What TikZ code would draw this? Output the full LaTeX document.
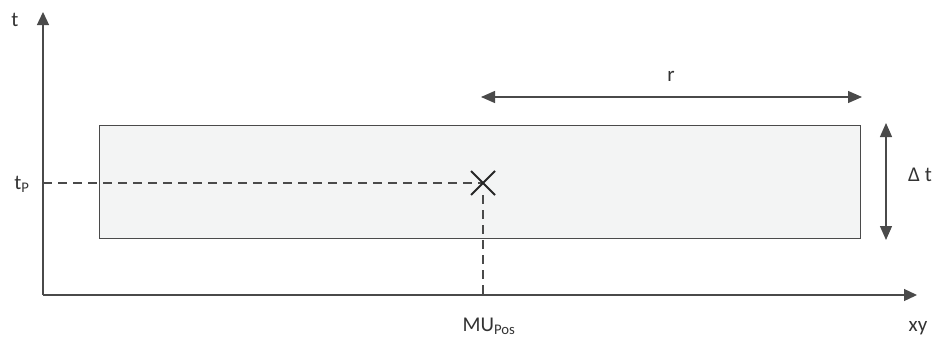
\documentclass[tikz,border=0pt]{standalone}
\usepackage{fontspec}
\setmainfont{Carlito}
\usetikzlibrary{arrows.meta}
\definecolor{linegray}{HTML}{4A4A4A}
\definecolor{boxfill}{HTML}{F3F4F4}
\tikzset{
  tip/.style={Triangle[length=13pt,width=12pt]},
  axis/.style={draw=linegray, line width=1.3pt, -{Triangle[length=13pt,width=12pt]}},
  dimarrow/.style={draw=linegray, line width=1.3pt, {Triangle[length=14pt,width=12pt]}-{Triangle[length=14pt,width=12pt]}},
  guide/.style={draw=linegray, line width=1.2pt, dash pattern=on 9pt off 6pt},
  lbl/.style={font=\fontsize{21}{25}\selectfont, text=black!80, inner sep=0pt},
}
\begin{document}
\begin{tikzpicture}[x=1pt,y=-1pt]
\useasboundingbox (0,0) rectangle (934,340);
% coordinate frame
\coordinate (O) at (43,295);
\coordinate (tend) at (43,12);
\coordinate (xend) at (917,295);
% time window box
\node[draw=linegray, line width=1.2pt, fill=boxfill, minimum width=761pt, minimum height=113pt, inner sep=0pt, anchor=north west] (win) at (99,125) {};
% guide lines to the marked point
\coordinate (P) at (483,183);
\coordinate (tP) at (43,183);
\coordinate (xP) at (483,295);
\draw[guide] (tP) -- (P);
\draw[guide] (P) ++(0,12) -- (xP);
% axes
\draw[axis] (O) -- (tend);
\draw[axis] (O) -- (xend);
% cross marker
\draw[draw=black!85, line width=1.8pt] (471,171) -- (495,195) (471,195) -- (495,171);
% extent arrows
\coordinate (rL) at (481,97);
\coordinate (rR) at (862,97);
\draw[dimarrow] (rL) -- (rR);
\coordinate (dT) at (886,123);
\coordinate (dB) at (886,240);
\draw[dimarrow] (dT) -- (dB);
% labels
\node[lbl] (lt) at (15,20) {t};
\node[lbl] (ltp) at (22,184) {t\textsubscript{P}};
\node[lbl] (lr) at (671,76) {r};
\node[lbl] (ldt) at (920,175) {Δ t};
\node[lbl] (lmu) at (489,326) {MU\textsubscript{Pos}};
\node[lbl] (lxy) at (918,328) {xy};
\end{tikzpicture}
\end{document}
